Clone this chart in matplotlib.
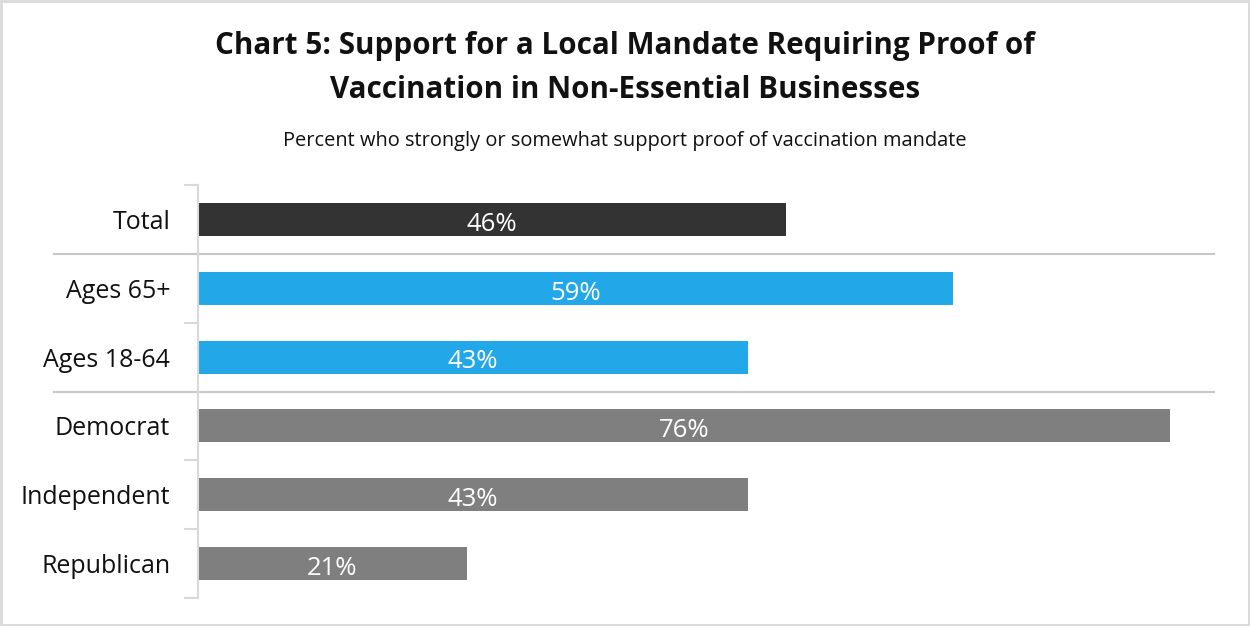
import matplotlib.pyplot as plt
from matplotlib.lines import Line2D
from matplotlib.patches import Rectangle
from matplotlib.transforms import blended_transform_factory

plt.rcParams['font.family'] = ['Open Sans', 'DejaVu Sans']

groups = ['Total', 'Ages 65+', 'Ages 18-64', 'Democrat', 'Independent', 'Republican']
support = [46, 59, 43, 76, 43, 21]
colors = ['#333333', '#22a7e8', '#22a7e8', '#7f7f7f', '#7f7f7f', '#7f7f7f']

fig = plt.figure(figsize=(12.5, 6.26), dpi=100)
ax = fig.add_axes([0.1584, 0.0447, 0.8186, 0.6598])

y = list(range(len(groups)))
bars = ax.barh(y, support, height=0.48, color=colors)
for b, v in zip(bars, support):
    ax.text(b.get_width() / 2, b.get_y() + b.get_height() / 2 + 0.07, f'{v}%',
            ha='center', va='center', color='white', fontsize=18.5)

ax.set_xlim(0, 80)
ax.set_ylim(len(groups) - 0.5, -0.5)
ax.set_yticks(y)
ax.set_yticklabels(groups, fontsize=18, color='#111111')
ax.tick_params(axis='y', which='major', length=0, pad=20)
ax.set_yticks([i - 0.5 for i in range(len(groups) + 1)], minor=True)
ax.tick_params(axis='y', which='minor', length=10, width=1.5, color='#d9d9d9')
ax.set_xticks([])
for s in ['top', 'right', 'bottom']:
    ax.spines[s].set_visible(False)
ax.spines['left'].set_color('#d9d9d9')
ax.spines['left'].set_linewidth(1.5)

# group separators span across the label column
tr = blended_transform_factory(fig.transFigure, ax.transData)
for yy in [0.5, 2.5]:
    ax.add_line(Line2D([0.043, 0.971], [yy, yy], transform=tr, color='#c8c8c8',
                       linewidth=1.5, clip_on=False))

title_lines = ['Chart 5: Support for a Local Mandate Requiring Proof of',
               'Vaccination in Non-Essential Businesses']
for ty, line in zip([0.926, 0.857], title_lines):
    fig.text(0.5, ty, line, ha='center', va='center', fontsize=21.3,
             fontweight='bold', color='#111111')
fig.text(0.5, 0.774, 'Percent who strongly or somewhat support proof of vaccination mandate',
         ha='center', va='center', fontsize=14.4, color='#111111')

fig.add_artist(Rectangle((0.001, 0.001), 0.998, 0.997, transform=fig.transFigure,
                         fill=False, edgecolor='#d9d9d9', linewidth=2))

fig.savefig('out.png', dpi=100)
